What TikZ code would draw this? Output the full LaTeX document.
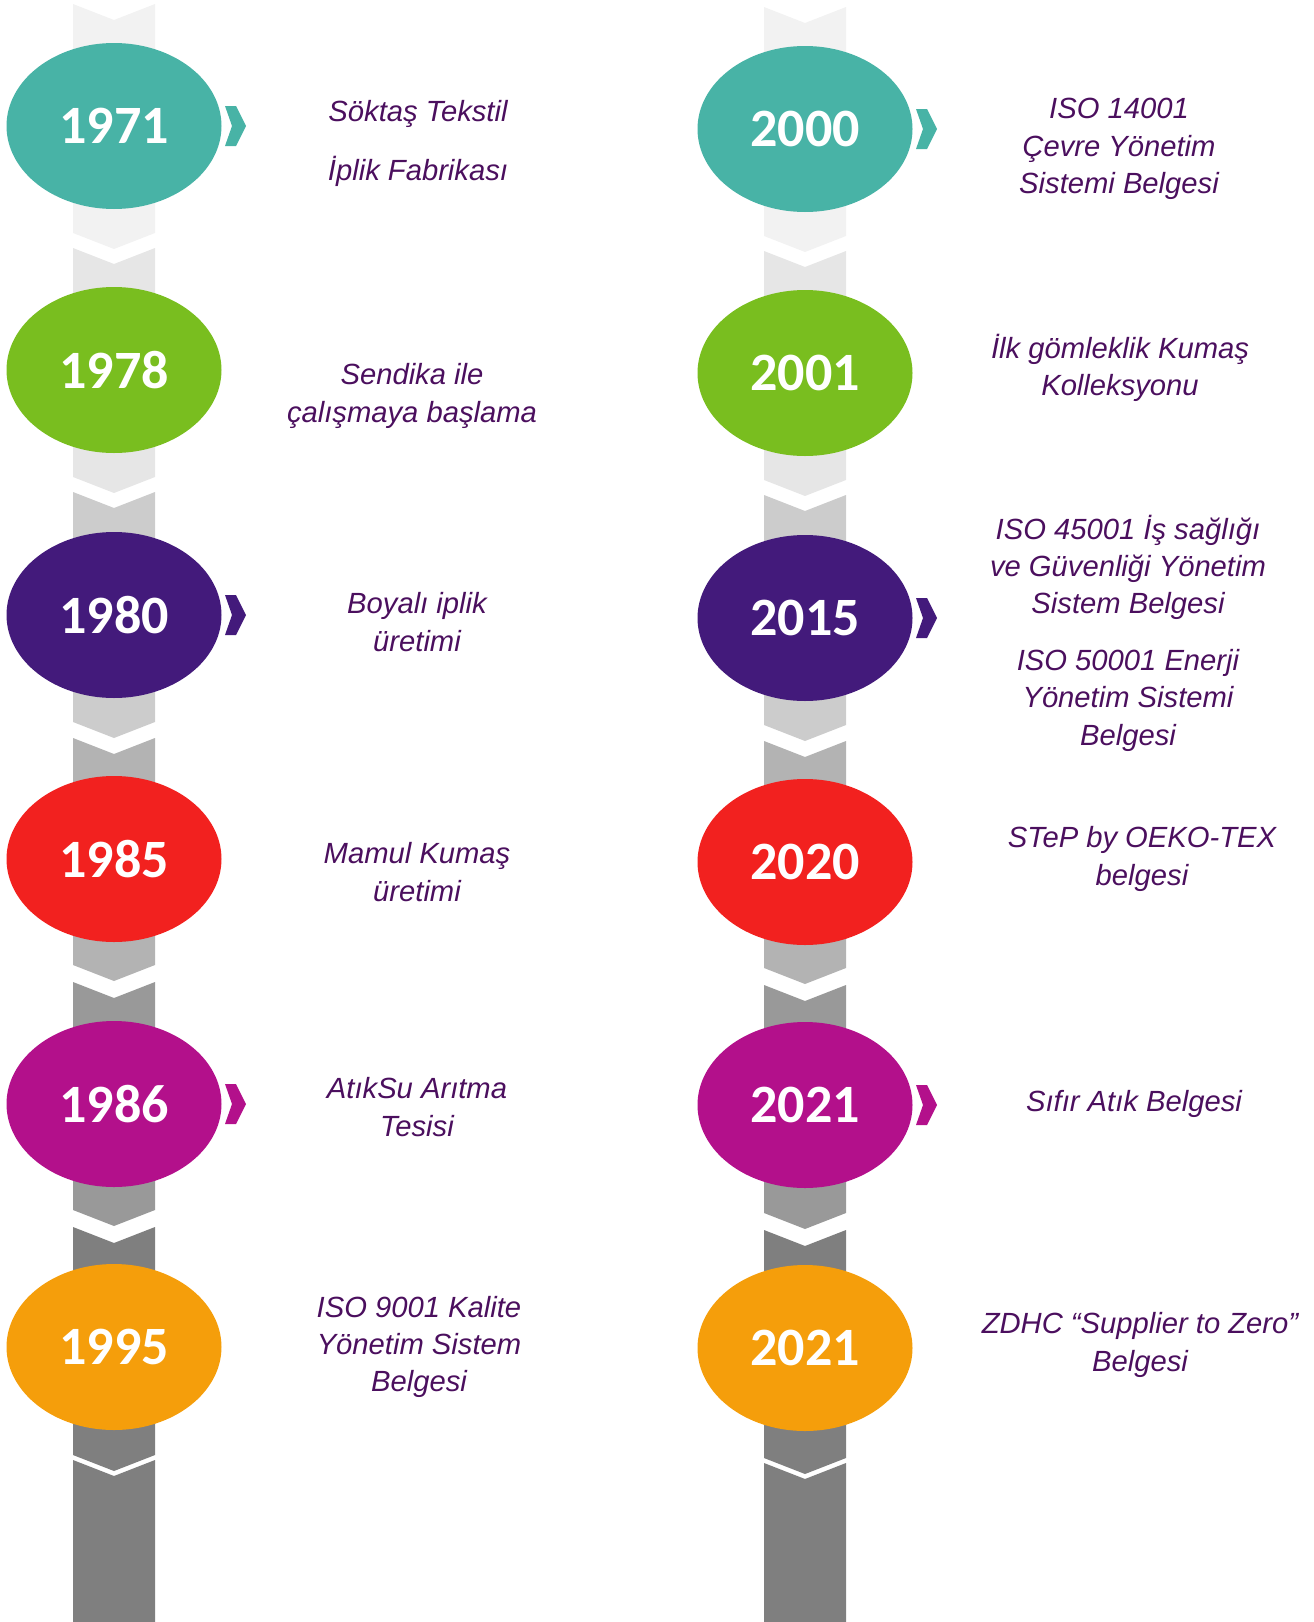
\documentclass[tikz,border=0pt]{standalone}
\usepackage{fontspec}
\setmainfont{Liberation Sans}
\newfontfamily\yearfont{Carlito}
\usetikzlibrary{shapes.geometric}
\definecolor{tealc}{HTML}{48B3A6}
\definecolor{greenc}{HTML}{79BE1F}
\definecolor{purplec}{HTML}{431A7B}
\definecolor{redc}{HTML}{F2211F}
\definecolor{magentac}{HTML}{B3108B}
\definecolor{orangec}{HTML}{F59E0B}
\definecolor{inkc}{HTML}{4B0F5E}
\definecolor{bandA}{HTML}{F2F2F2}
\definecolor{bandB}{HTML}{E6E6E6}
\definecolor{bandC}{HTML}{CCCCCC}
\definecolor{bandD}{HTML}{B3B3B3}
\definecolor{bandE}{HTML}{999999}
\definecolor{bandF}{HTML}{7F7F7F}

\begin{document}
\begin{tikzpicture}[x=1pt, y=-1pt,
  year/.style={ellipse, minimum width=215pt, minimum height=166pt, inner sep=0pt, text=white, font=\yearfont\bfseries\fontsize{54}{54}\selectfont},
  info/.style={align=center, text=inkc, font=\itshape\fontsize{29.2}{37.2}\selectfont}]
  \useasboundingbox (0,0) rectangle (1314,1622);
  \clip (0,0) rectangle (1314,1622);

  \foreach \c/\o in {114/0, 805/3}{%
  \foreach \t/\b/\col in {4/233/bandA, 248/477/bandB, 492/722/bandC, 738/965/bandD, 982/1210/bandE, 1227/1455/bandF, 1460/1660/bandF}{%
  \fill[\col] (\c-41,\t+\o) -- (\c,\t+\o+16) -- (\c+41,\t+\o) -- (\c+41,\b+\o) -- (\c,\b+\o+16) -- (\c-41,\b+\o) -- cycle;
  }}

  \foreach \n/\l/\x/\y/\col in {1971/1971/114/126/tealc, 1978/1978/114/370/greenc, 1980/1980/114/615/purplec, 1985/1985/114/859/redc, 1986/1986/114/1104/magentac, 1995/1995/114/1347/orangec, 2000/2000/805/129/tealc, 2001/2001/805/373/greenc, 2015/2015/805/618/purplec, 2020/2020/805/862/redc, 2021a/2021/805/1105/magentac, 2021b/2021/805/1348/orangec}{%
  \node[year, fill=\col] (y\n) at (\x,\y) {\l};
  }

  \foreach \n/\col in {1971/tealc, 1980/purplec, 1986/magentac, 2000/tealc, 2015/purplec, 2021a/magentac}{%
  \fill[\col] ([shift={(111,-20)}]y\n.center) -- ++(11,0) -- ++(10,20) -- ++(-10,20) -- ++(-11,0) -- ++(7,-20) -- cycle;
  }

  \node[info] (t1971) at (418,143) {Söktaş Tekstil\\[21.8pt]İplik Fabrikası};
  \node[info] (t1978) at (412,396) {Sendika ile\\çalışmaya başlama};
  \node[info] (t1980) at (417,622) {Boyalı iplik\\üretimi};
  \node[info] (t1985) at (417,872) {Mamul Kumaş\\üretimi};
  \node[info] (t1986) at (417,1107) {AtıkSu Arıtma\\Tesisi};
  \node[info] (t1995) at (419,1347) {ISO 9001 Kalite\\Yönetim Sistem\\Belgesi};

  \node[info] (t2000) at (1119,149) {ISO 14001\\Çevre Yönetim\\Sistemi Belgesi};
  \node[info] (t2001) at (1120,368) {İlk gömleklik Kumaş\\Kolleksyonu};
  \node[info] (t2015) at (1128,633) {ISO 45001 İş sağlığı\\ve Güvenliği Yönetim\\Sistem Belgesi\\[19.8pt]ISO 50001 Enerji\\Yönetim Sistemi\\Belgesi};
  \node[info] (t2020) at (1142,859) {STeP by OEKO-TEX\\belgesi};
  \node[info] (t2021a) at (1134,1104) {Sıfır Atık Belgesi};
  \node[info] (t2021b) at (1140,1345) {ZDHC “Supplier to Zero”\\Belgesi};
\end{tikzpicture}
\end{document}
